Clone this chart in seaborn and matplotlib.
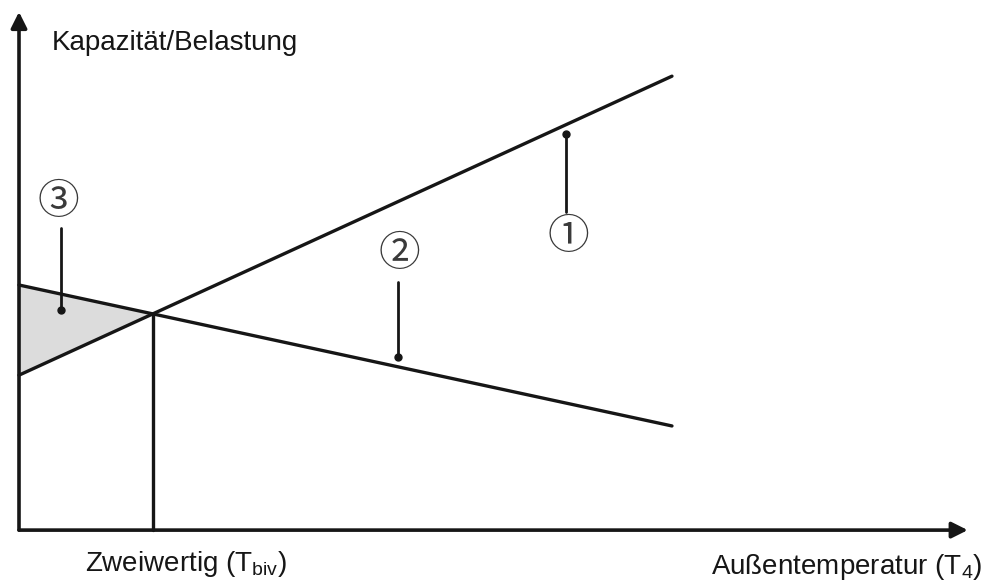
import numpy as np
import matplotlib.pyplot as plt
import seaborn as sns

# Außentemperatur (schematisch) und die beiden Geraden
temp = [0.0, 10.0]
kapazitaet = [2.99, 8.76]   # (1) Kapazität der Wärmepumpe
belastung = [4.73, 2.01]    # (2) Heizlast

# Hinweisnummern und ihre Leiterlinien
marke = ["①", "②", "③"]
marke_x = [8.41, 5.82, 0.60]
marke_y = [5.64, 5.31, 6.33]
leiter_x = [8.38, 5.80, 0.64]
leiter_von = [7.64, 4.79, 5.83]   # Ende ohne Punkt / mit Punkt
leiter_bis = [6.14, 3.34, 4.25]
punkt_y = [7.64, 3.34, 4.25]

achse_x_ende = 14.53
achse_y_ende = 10.0

sns.set_theme(style="white")
plt.rcParams["font.family"] = ["Liberation Sans", "DejaVu Sans"]
plt.rcParams["mathtext.fontset"] = "custom"
plt.rcParams["mathtext.rm"] = "Liberation Sans"

schwarz = "#161616"

fig = plt.figure(figsize=(9.88, 5.84), dpi=100)
ax = fig.add_axes([0, 0, 1, 1])
ax.set_xlim(-0.291, 14.84)
ax.set_ylim(-1.04, 10.23)
ax.axis("off")

# Schnittpunkt = Bivalenzpunkt
k1 = (kapazitaet[1] - kapazitaet[0]) / (temp[1] - temp[0])
k2 = (belastung[1] - belastung[0]) / (temp[1] - temp[0])
t_biv = (belastung[0] - kapazitaet[0]) / (k1 - k2)
y_biv = kapazitaet[0] + k1 * t_biv

# Fläche (3)
xs = np.linspace(0, t_biv, 50)
ax.fill_between(xs, np.interp(xs, temp, kapazitaet), np.interp(xs, temp, belastung),
                color="#dcdcdc", lw=0, zorder=1)

sns.lineplot(x=temp, y=kapazitaet, ax=ax, color=schwarz, lw=2.4, zorder=3)
sns.lineplot(x=temp, y=belastung, ax=ax, color=schwarz, lw=2.4, zorder=3)
ax.plot([t_biv, t_biv], [0, y_biv], color=schwarz, lw=2.4, zorder=3)

# Achsen mit Pfeilen
pfeil = dict(arrowstyle="-|>", color=schwarz, lw=2.6, mutation_scale=24, shrinkA=0, shrinkB=0)
ax.annotate("", xy=(achse_x_ende, 0), xytext=(0, 0), arrowprops=pfeil, zorder=4)
ax.annotate("", xy=(0, achse_y_ende), xytext=(0, 0), arrowprops=pfeil, zorder=4)

# Hinweisnummern
for m, mx, my, lx, l0, l1, py in zip(marke, marke_x, marke_y, leiter_x,
                                     leiter_von, leiter_bis, punkt_y):
    ax.text(mx, my, m, fontsize=30, ha="center", va="center", color="#3a3a3a",
            family=["Noto Sans CJK JP", "DejaVu Sans"])
    ax.plot([lx, lx], [l0, l1], color=schwarz, lw=2.0, zorder=3)
    ax.plot([lx], [py], "o", color=schwarz, ms=5, zorder=4)

ax.text(0.505, 9.40, "Kapazität/Belastung", fontsize=20, ha="left", va="center", color=schwarz)
ax.text(2.56, -0.66, r"Zweiwertig (T$_\mathregular{biv}$)", fontsize=20,
        ha="center", va="center", color=schwarz)
ax.text(14.75, -0.71, r"Außentemperatur (T$_\mathregular{4}$)", fontsize=20,
        ha="right", va="center", color=schwarz)

fig.savefig("out.png", dpi=100, facecolor="white")
